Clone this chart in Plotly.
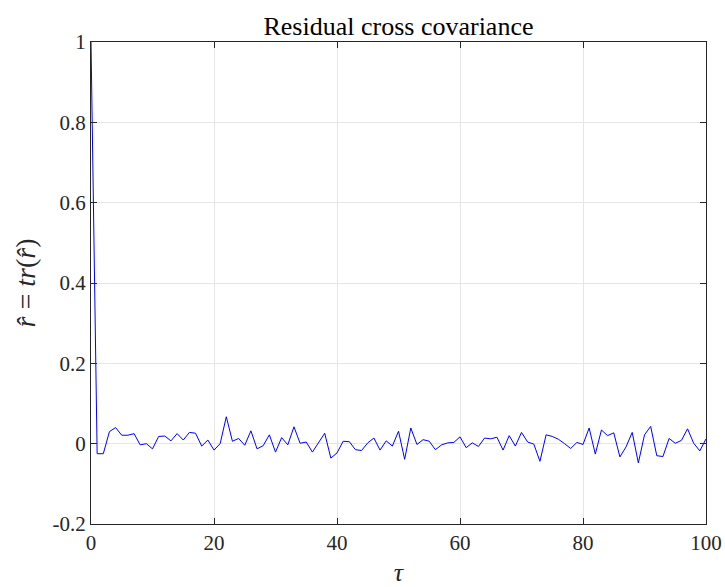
import plotly.graph_objects as go

# Lag axis and normalised residual cross covariance values
lags = list(range(0, 101))
r_hat = [
    1.0, -0.025, -0.025, 0.030, 0.040, 0.021, 0.021, 0.025, -0.003, 0.000,
    -0.013, 0.018, 0.019, 0.007, 0.025, 0.009, 0.028, 0.026, -0.006, 0.009,
    -0.016, 0.000, 0.067, 0.006, 0.013, -0.004, 0.032, -0.013, -0.005, 0.022,
    -0.021, 0.015, -0.003, 0.042, 0.001, 0.004, -0.021, 0.003, 0.026, -0.036,
    -0.023, 0.006, 0.005, -0.015, -0.017, 0.002, 0.014, -0.016, 0.007, -0.006,
    0.031, -0.039, 0.039, -0.002, 0.010, 0.006, -0.015, -0.003, 0.002, 0.003,
    0.017, -0.010, 0.002, -0.007, 0.014, 0.012, 0.016, -0.016, 0.020, -0.006,
    0.028, 0.004, -0.001, -0.044, 0.022, 0.018, 0.011, 0.000, -0.012, 0.003,
    -0.002, 0.039, -0.026, 0.034, 0.020, 0.027, -0.033, -0.008, 0.028, -0.048,
    0.022, 0.043, -0.030, -0.032, 0.013, 0.001, 0.008, 0.037, 0.001, -0.018,
    0.012,
]

x_ticks = [0, 20, 40, 60, 80, 100]
x_tick_text = ["0", "20", "40", "60", "80", "100"]
y_ticks = [-0.2, 0, 0.2, 0.4, 0.6, 0.8, 1]
y_tick_text = ["-0.2", "0", "0.2", "0.4", "0.6", "0.8", "1"]

serif = "Liberation Serif"
axis_color = "#262626"
grid_color = "#e6e6e6"

fig = go.Figure()
fig.add_trace(go.Scatter(
    x=lags, y=r_hat, mode="lines",
    line=dict(color="#0000ff", width=1),
    showlegend=False,
))

fig.update_layout(
    width=725, height=587,
    margin=dict(l=91, r=19, t=42, b=63, autoexpand=False),
    paper_bgcolor="white", plot_bgcolor="white",
    font=dict(family=serif, size=21, color=axis_color),
    title=dict(
        text="Residual cross covariance",
        x=0.5, xref="paper", xanchor="center",
        y=1, yref="paper", yanchor="bottom", pad=dict(b=7),
        font=dict(family=serif, size=26, color="#000000"),
    ),
)

fig.update_xaxes(
    range=[0, 100],
    tickvals=x_ticks, ticktext=x_tick_text,
    showgrid=True, gridcolor=grid_color, gridwidth=1,
    zeroline=False, automargin=False,
    showline=True, linecolor=axis_color, linewidth=1, mirror="ticks",
    ticks="inside", ticklen=6, tickcolor=axis_color,
    tickfont=dict(family=serif, size=21, color=axis_color),
    title=dict(text="<i>τ</i>", standoff=15,
               font=dict(family=serif, size=26, color=axis_color)),
)

fig.update_yaxes(
    range=[-0.2, 1],
    tickvals=y_ticks, ticktext=y_tick_text,
    showgrid=True, gridcolor=grid_color, gridwidth=1,
    zeroline=False, automargin=False,
    showline=True, linecolor=axis_color, linewidth=1, mirror="ticks",
    ticks="inside", ticklen=6, tickcolor=axis_color,
    tickfont=dict(family=serif, size=21, color=axis_color),
    title=dict(text="<i>r\u0302</i> = <i>tr</i>(<i>r\u0302</i>)", standoff=8,
               font=dict(family=serif, size=28, color=axis_color)),
)

fig.write_html("out.html")
